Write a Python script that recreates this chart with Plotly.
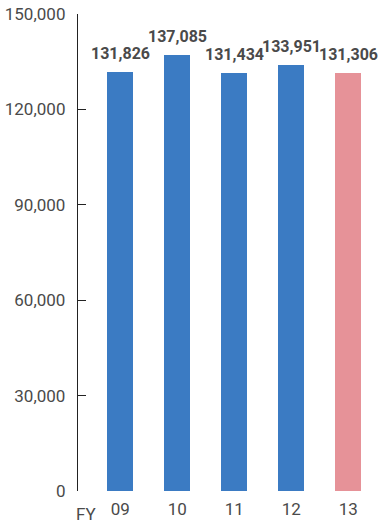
import plotly.graph_objects as go

categories = ["09", "10", "11", "12", "13"]
values = [131826, 137085, 131434, 133951, 131306]
bar_colors = ["#3b7bc3", "#3b7bc3", "#3b7bc3", "#3b7bc3", "#e69298"]
y_ticks = [0, 30000, 60000, 90000, 120000, 150000]
y_tick_labels = ["0", "30,000", "60,000", "90,000", "120,000", "150,000"]

FONT = "Roboto, Arial, sans-serif"
TXT = "#4a4a4a"

fig = go.Figure()
fig.add_trace(go.Bar(
    x=list(range(len(categories))),
    y=values,
    width=0.46,
    marker=dict(color=bar_colors, line=dict(width=0)),
    cliponaxis=False,
    hoverinfo="skip",
))

for i, v in enumerate(values):
    fig.add_annotation(
        x=i, y=v, text=f"{v:,}", showarrow=False,
        yanchor="bottom", yshift=7,
        font=dict(family=FONT, size=16, color=TXT, weight="bold"),
    )

fig.add_annotation(
    x=0, xref="paper", xshift=-4, y=0, yref="paper", yshift=-23,
    text="FY", showarrow=False, xanchor="left", yanchor="middle",
    font=dict(family=FONT, size=17, color=TXT),
)

fig.update_layout(
    width=381, height=523,
    margin=dict(l=78, r=6, t=14, b=32, pad=0, autoexpand=False),
    paper_bgcolor="white", plot_bgcolor="white",
    showlegend=False, bargap=0,
    xaxis=dict(
        range=[-0.74, 4.47],
        tickmode="array", tickvals=list(range(len(categories))), ticktext=categories,
        showline=False, showgrid=False, zeroline=False, ticks="",
        tickfont=dict(family=FONT, size=17, color=TXT),
        ticklabelstandoff=6,
        automargin=False,
        fixedrange=True,
    ),
    yaxis=dict(
        range=[0, 150000],
        tickmode="array", tickvals=y_ticks, ticktext=y_tick_labels,
        showline=True, linecolor="#222", linewidth=1.3,
        ticks="inside", ticklen=8, tickcolor="#222", tickwidth=1.3,
        showgrid=False, zeroline=False,
        tickfont=dict(family=FONT, size=17, color=TXT),
        ticklabelstandoff=8,
        automargin=False,
        fixedrange=True,
    ),
)

fig.write_html("out.html")
